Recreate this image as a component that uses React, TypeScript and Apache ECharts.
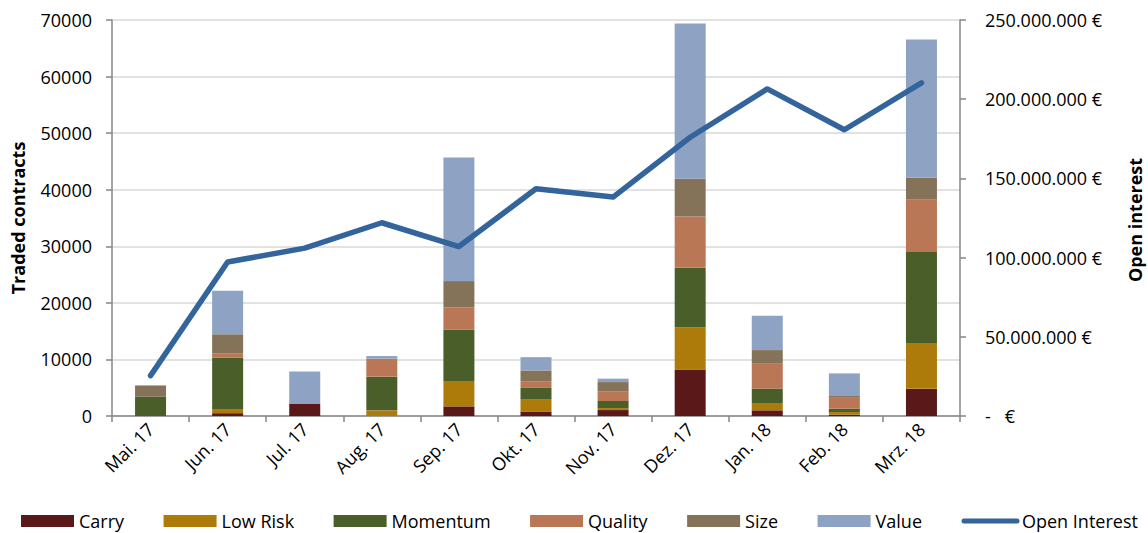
import React, { useEffect, useRef } from "react";
import * as echarts from "echarts";

// Monthly traded contracts per factor, and total open interest (EUR)
const months = ["Mai. 17", "Jun. 17", "Jul. 17", "Aug. 17", "Sep. 17", "Okt. 17", "Nov. 17", "Dez. 17", "Jan. 18", "Feb. 18", "Mrz. 18"];

const carry = [0, 500, 2200, 0, 1700, 800, 1050, 8200, 1000, 230, 4800];
const lowRisk = [0, 750, 0, 1000, 4500, 2200, 350, 7500, 1300, 470, 8100];
const momentum = [3400, 9050, 0, 5950, 9100, 2050, 1250, 10500, 2550, 590, 16100];
const quality = [0, 800, 0, 3200, 3900, 1100, 1650, 9050, 4500, 2060, 9250];
const size = [2000, 3350, 0, 0, 4650, 1900, 1700, 6700, 2300, 180, 3900];
const value = [0, 7700, 5650, 450, 21850, 2350, 600, 27450, 6050, 4000, 24400];

const openInterest = [25500000, 97200000, 106000000, 122000000, 107000000, 143500000, 138200000, 176000000, 206500000, 180700000, 210300000];

const leftTicks = { min: 0, max: 70000, interval: 10000 };
const rightTicks = { min: 0, max: 250000000, interval: 50000000 };

const FONT = "'Open Sans', 'Noto Sans', sans-serif";
const AXIS_GREY = "#868686";
const GRID_GREY = "#d9d9d9";
const LINE_BLUE = "#34649c";

const factorSeries: { name: string; data: number[]; color: string }[] = [
  { name: "Carry", data: carry, color: "#5a1819" },
  { name: "Low Risk", data: lowRisk, color: "#ac7b09" },
  { name: "Momentum", data: momentum, color: "#4a5e29" },
  { name: "Quality", data: quality, color: "#b97756" },
  { name: "Size", data: size, color: "#857359" },
  { name: "Value", data: value, color: "#8ea2c3" },
];

function euro(v: number): string {
  if (v === 0) return "-\u00a0\u00a0\u00a0€";
  return v.toString().replace(/\B(?=(\d{3})+(?!\d))/g, ".") + " €";
}

export default function App() {
  const ref = useRef<HTMLDivElement>(null);

  useEffect(() => {
    document.body.style.margin = "0";
    if (!ref.current) return;
    const chart = echarts.init(ref.current, undefined, { renderer: "svg" });

    const bars = factorSeries.map((s) => ({
      name: s.name,
      type: "bar" as const,
      stack: "contracts",
      yAxisIndex: 0,
      barWidth: 31,
      data: s.data,
      itemStyle: { color: s.color },
    }));

    chart.setOption({
      animation: false,
      textStyle: { fontFamily: FONT },
      grid: { left: 112, right: 188, top: 20, bottom: 117, containLabel: false },
      legend: {
        left: 16,
        top: 506,
        itemWidth: 53,
        itemHeight: 12,
        itemGap: 39.5,
        textStyle: { fontSize: 18, lineHeight: 20, color: "#000", fontFamily: FONT },
        data: [
          ...factorSeries.map((s) => ({ name: s.name, icon: "rect" })),
          {
            name: "Open Interest",
            itemStyle: { opacity: 0 },
            lineStyle: { color: LINE_BLUE, width: 5, cap: "round" },
          },
        ],
      },
      xAxis: {
        type: "category",
        data: months,
        boundaryGap: true,
        axisLine: { lineStyle: { color: AXIS_GREY, width: 1.5 } },
        axisTick: { show: true, length: 6, alignWithLabel: false, lineStyle: { color: AXIS_GREY, width: 1.5 } },
        axisLabel: { rotate: 45, fontSize: 18, color: "#000", margin: 10, fontFamily: FONT },
        splitLine: { show: false },
      },
      yAxis: [
        {
          type: "value",
          min: leftTicks.min,
          max: leftTicks.max,
          interval: leftTicks.interval,
          position: "left",
          axisLine: { show: true, lineStyle: { color: AXIS_GREY, width: 1.5 } },
          axisTick: { show: true, length: 6, lineStyle: { color: AXIS_GREY, width: 1.5 } },
          axisLabel: { fontSize: 18, color: "#000", margin: 20, fontFamily: FONT, formatter: (v: number) => String(v) },
          splitLine: { show: true, lineStyle: { color: GRID_GREY, width: 1.5 } },
        },
        {
          type: "value",
          min: rightTicks.min,
          max: rightTicks.max,
          interval: rightTicks.interval,
          position: "right",
          axisLine: { show: true, lineStyle: { color: AXIS_GREY, width: 1.5 } },
          axisTick: { show: true, length: 6, lineStyle: { color: AXIS_GREY, width: 1.5 } },
          axisLabel: { fontSize: 18, color: "#000", margin: 25, align: "left", formatter: euro, fontFamily: FONT },
          splitLine: { show: false },
        },
      ],
      graphic: [
        {
          type: "text",
          x: 18,
          y: 218,
          rotation: Math.PI / 2,
          style: {
            text: "Traded contracts",
            fontSize: 18,
            fontWeight: "bold",
            fontFamily: FONT,
            fill: "#000",
            align: "center",
            verticalAlign: "middle",
          },
        },
        {
          type: "text",
          x: 1135,
          y: 220,
          rotation: Math.PI / 2,
          style: {
            text: "Open interest",
            fontSize: 18,
            fontWeight: "bold",
            fontFamily: FONT,
            fill: "#000",
            align: "center",
            verticalAlign: "middle",
          },
        },
      ],
      series: [
        ...bars,
        {
          name: "Open Interest",
          type: "line",
          yAxisIndex: 1,
          data: openInterest,
          symbol: "none",
          z: 5,
          itemStyle: { color: LINE_BLUE },
          lineStyle: { color: LINE_BLUE, width: 5.5, cap: "round", join: "round" },
        },
      ],
    });

    return () => chart.dispose();
  }, []);

  return <div ref={ref} style={{ width: 1148, height: 533 }} />;
}
